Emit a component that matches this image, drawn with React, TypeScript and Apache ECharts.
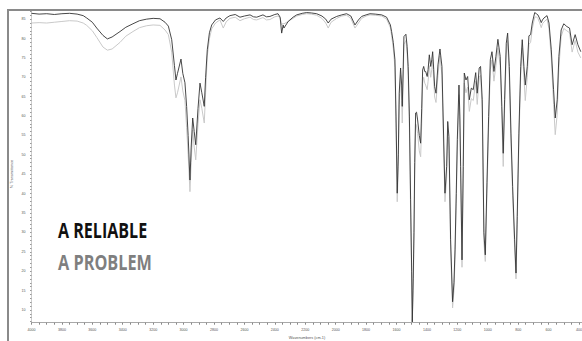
import React, { useEffect, useRef } from "react";
import * as echarts from "echarts";

const wavenumbers = [
  4000, 3950, 3900, 3850, 3800, 3750, 3700, 3660, 3637, 3600, 3571, 3530, 3501, 3470, 3418, 3380, 3333, 3290, 3243, 3200,
  3155, 3122, 3100, 3078, 3060, 3050, 3040, 3017, 3005, 2991, 2980, 2970, 2958, 2950, 2940, 2930, 2920, 2905, 2892, 2880,
  2864, 2855, 2844, 2830, 2815, 2790, 2761, 2739, 2720, 2695, 2660, 2629, 2600, 2563, 2540, 2519, 2478, 2455, 2432, 2400,
  2379, 2365, 2355, 2345, 2340, 2312, 2280, 2256, 2220, 2191, 2160, 2125, 2090, 2065, 2049, 2030, 1993, 1960, 1928, 1900,
  1873, 1850, 1829, 1800, 1774, 1740, 1697, 1665, 1640, 1632, 1621, 1610, 1603, 1595, 1588, 1582, 1573, 1566, 1562, 1556,
  1551, 1538, 1530, 1523, 1515, 1507, 1500, 1496, 1490, 1485, 1480, 1474, 1468, 1461, 1450, 1441, 1434, 1428, 1421, 1414,
  1408, 1398, 1392, 1384, 1375, 1368, 1362, 1355, 1349, 1340, 1327, 1314, 1301, 1292, 1281, 1270, 1263, 1255, 1244, 1231,
  1222, 1215, 1207, 1200, 1189, 1183, 1178, 1169, 1161, 1154, 1143, 1132, 1121, 1108, 1095, 1079, 1069, 1056, 1047, 1036,
  1025, 1016, 1005, 994, 983, 972, 959, 946, 933, 918, 907, 898, 889, 878, 869, 858, 847, 836, 823, 814,
  806, 795, 783, 773, 762, 753, 740, 729, 718, 707, 691, 680, 670, 660, 648, 640, 630, 610, 597, 582,
  567, 556, 543, 532, 517, 500, 480, 462, 445, 425, 407, 388,
];

const reliable = [
  86.5, 86.3, 86.4, 86.2, 86.4, 86.5, 86.3, 85.9, 85.3, 84.2, 82.7, 80.8, 79.9, 80.4, 81.8, 82.9, 83.8, 84.6, 85.0, 85.2,
  85.1, 84.2, 83.2, 79.7, 73, 69.3, 71, 74.7, 71, 68.6, 62.5, 55, 43.5, 52, 59.5, 56, 52.6, 62, 68.5, 66,
  62.5, 70, 77.1, 81.5, 83.5, 84.8, 85.3, 84.4, 85.3, 85.9, 86.2, 85.5, 85.8, 86.1, 85.6, 85.5, 86.1, 85.6, 85.7, 86.2,
  86.4, 85.5, 81.4, 83.5, 82.7, 84.4, 85.5, 86.1, 86.5, 86.7, 86.6, 86.4, 85.8, 85.0, 84.0, 85.0, 85.7, 86.1, 86.4, 85.8,
  83.5, 84.8, 85.7, 86.1, 86.4, 86.3, 86.1, 85.5, 83.5, 81.8, 79, 74.5, 60, 40.1, 50, 65.9, 72.4, 68, 62.5, 72,
  80.5, 81.1, 78, 72.8, 60, 38.4, 20, 6.9, 18, 29.9, 48, 60.8, 61, 59.0, 55, 53.0, 62, 71.9, 72.8, 71.5,
  71.5, 70.2, 72, 75.8, 72.8, 74.5, 76.6, 72, 67.6, 65.9, 73.2, 77.3, 72.8, 58.2, 40.1, 47.0, 58.6, 54.7, 28.1, 12.1,
  17, 25.5, 40, 53.9, 68.0, 60, 47.0, 22.9, 47.0, 71.1, 69.3, 70.2, 64.2, 67.2, 66.8, 71.2, 65.9, 72.4, 72.8, 64.2,
  29.9, 24.2, 42.8, 59.9, 74.5, 76.6, 71.5, 75.4, 79.8, 75.4, 62.5, 50.4, 64.2, 78.8, 81.4, 72.8, 55.6, 41.8, 28.1, 19.5,
  34.1, 55.6, 72.8, 79.7, 72.8, 68.0, 72.8, 80.7, 81.0, 84.0, 86.7, 86.4, 86.1, 85.3, 84.1, 84.8, 85.3, 85.9, 84.0, 77.1,
  66.8, 59.5, 64.2, 75.4, 82.2, 83.8, 83.1, 82.7, 78.4, 81.0, 78.4, 76.6,
];

const problem = [
  84.0, 84.1, 84.0, 84.2, 84.4, 84.6, 84.5, 84.0, 83.4, 82.0, 80.3, 77.8, 77.0, 77.3, 79.0, 80.6, 81.8, 82.8, 83.3, 83.5,
  83.4, 82.2, 81.0, 76.5, 68, 64.7, 66, 70.1, 66.5, 64, 57, 50, 40.5, 48, 56.4, 52, 48.7, 58, 64.2, 62,
  58.2, 66, 75.5, 80, 82.5, 84, 84.8, 82.7, 84.3, 85.2, 85.5, 84.6, 85.1, 85.5, 84.9, 84.8, 85.4, 84.8, 84.9, 85.6,
  85.8, 85.3, 83.5, 84.0, 83.8, 84.4, 85.2, 85.8, 86.2, 86.4, 86.3, 86.0, 85.2, 84.0, 82.7, 84.2, 85.2, 85.8, 86.0, 85.2,
  82.7, 84.0, 85.2, 85.8, 86.1, 86.0, 85.8, 85.0, 82.8, 80.8, 77.5, 72.5, 57, 37.9, 47, 63, 70.5, 64, 58.2, 68.5,
  78.5, 79.5, 76, 70.5, 57, 35, 17, 6.9, 15, 27, 45, 58, 57.5, 55.5, 51, 49.5, 58, 68.5, 70, 68.5,
  68, 66.8, 69, 73, 70, 72, 74.5, 69, 64.9, 63.5, 70.5, 75.5, 70.5, 55, 37.9, 44, 56, 52, 25.5, 10.5,
  15, 23, 37.5, 51, 65.5, 57, 44, 21, 44, 68.5, 66, 67.5, 61.2, 64.5, 64, 69, 63, 70, 70.5, 61.5,
  27.5, 22.5, 40, 57, 72, 74.5, 69, 73, 77.5, 73, 59.5, 47, 61.5, 76, 79.5, 70, 53, 39.5, 26, 18,
  32, 53, 70.5, 77.5, 70, 64, 70, 78.5, 79, 82.5, 85.5, 85.6, 85.2, 84.2, 82.8, 83.8, 84.3, 85.0, 82.5, 75,
  63, 55.2, 60.5, 72.5, 80.5, 82.6, 82.0, 81.5, 76.5, 79.5, 76.5, 75,
];

const xTickLabels = [4000, 3800, 3600, 3400, 3200, 3000, 2800, 2600, 2400, 2200, 2000, 1800, 1600, 1400, 1200, 1000, 800, 600, 400];
const yTickLabels = [10, 15, 20, 25, 30, 35, 40, 45, 50, 55, 60, 65, 70, 75, 80, 85];

const seriesNames = ["A RELIABLE", "A PROBLEM"];
const xAxisTitle = "Wavenumbers (cm-1)";
const yAxisTitle = "% Transmittance";

export default function App() {
  const ref = useRef<HTMLDivElement>(null);
  useEffect(() => {
    if (!ref.current) return;
    const chart = echarts.init(ref.current, undefined, { renderer: "svg", width: 582, height: 341 });
    const xMinor: number[] = [];
    for (let v = 4000; v >= 400; v -= 50) xMinor.push(v);
    const yMinor: number[] = [];
    for (let v = 7; v <= 87; v += 1) yMinor.push(v);
    const goodPts = wavenumbers.map((w, i) => [w, reliable[i]]);
    const badPts = wavenumbers.map((w, i) => [w, problem[i]]);
    chart.setOption({
      animation: false,
      backgroundColor: "#ffffff",
      grid: { left: 31.5, right: 0, top: 11, bottom: 18.3, containLabel: false, outerBoundsMode: "none" },
      xAxis: {
        type: "value",
        inverse: true,
        min: 380,
        max: 4000,
        axisLine: { show: true, lineStyle: { color: "#a8a8a8", width: 1 } },
        axisTick: { show: true, length: 2, customValues: xMinor, lineStyle: { color: "#888" } },
        axisLabel: {
          customValues: xTickLabels,
          formatter: (v: number) => String(v),
          fontSize: 3.6,
          color: "#555",
          margin: 5,
          fontFamily: "Liberation Sans",
          hideOverlap: false,
        },
        splitLine: { show: false },
      },
      yAxis: {
        type: "value",
        min: 6.7,
        max: 87.1,
        axisLine: { show: true, lineStyle: { color: "#cccccc", width: 1 } },
        axisTick: { show: true, length: 1.5, customValues: yMinor, lineStyle: { color: "#999" } },
        axisLabel: {
          customValues: yTickLabels,
          formatter: (v: number) => String(v),
          fontSize: 3.6,
          color: "#555",
          margin: 6,
          fontFamily: "Liberation Sans",
        },
        splitLine: { show: false },
      },
      series: [
        {
          name: seriesNames[1],
          type: "line",
          data: badPts,
          symbol: "none",
          lineStyle: { color: "#c9c9c9", width: 1 },
          z: 2,
        },
        {
          name: seriesNames[0],
          type: "line",
          data: goodPts,
          symbol: "none",
          lineStyle: { color: "#333333", width: 0.9 },
          z: 3,
        },
      ],
      graphic: [
        { type: "rect", shape: { x: 7, y: 9, width: 575, height: 2 }, style: { fill: "#8a8a8a" }, z: 10 },
        { type: "rect", shape: { x: 7, y: 9, width: 2, height: 332 }, style: { fill: "#8a8a8a" }, z: 10 },
        {
          type: "text",
          x: 12,
          y: 174,
          rotation: Math.PI / 2,
          style: { text: yAxisTitle, fontSize: 3.8, fill: "#555", align: "center", verticalAlign: "middle", fontFamily: "Liberation Sans" },
        },
        {
          type: "text",
          x: 307,
          y: 338,
          style: { text: xAxisTitle, fontSize: 3.8, fill: "#555", align: "center", verticalAlign: "middle", fontFamily: "Liberation Sans" },
        },
        {
          type: "text",
          x: 58,
          y: 229.5,
          scaleX: 0.73,
          style: { text: seriesNames[0], fontSize: 22, fontWeight: "bold", fill: "#111111", align: "left", verticalAlign: "middle", fontFamily: "Open Sans" },
        },
        {
          type: "text",
          x: 58,
          y: 261.5,
          scaleX: 0.74,
          style: { text: seriesNames[1], fontSize: 22, fontWeight: "bold", fill: "#7f7f7f", align: "left", verticalAlign: "middle", fontFamily: "Open Sans" },
        },
      ],
    });
    return () => chart.dispose();
  }, []);
  return <div ref={ref} style={{ position: "fixed", left: 0, top: 0, width: 582, height: 341 }} />;
}
